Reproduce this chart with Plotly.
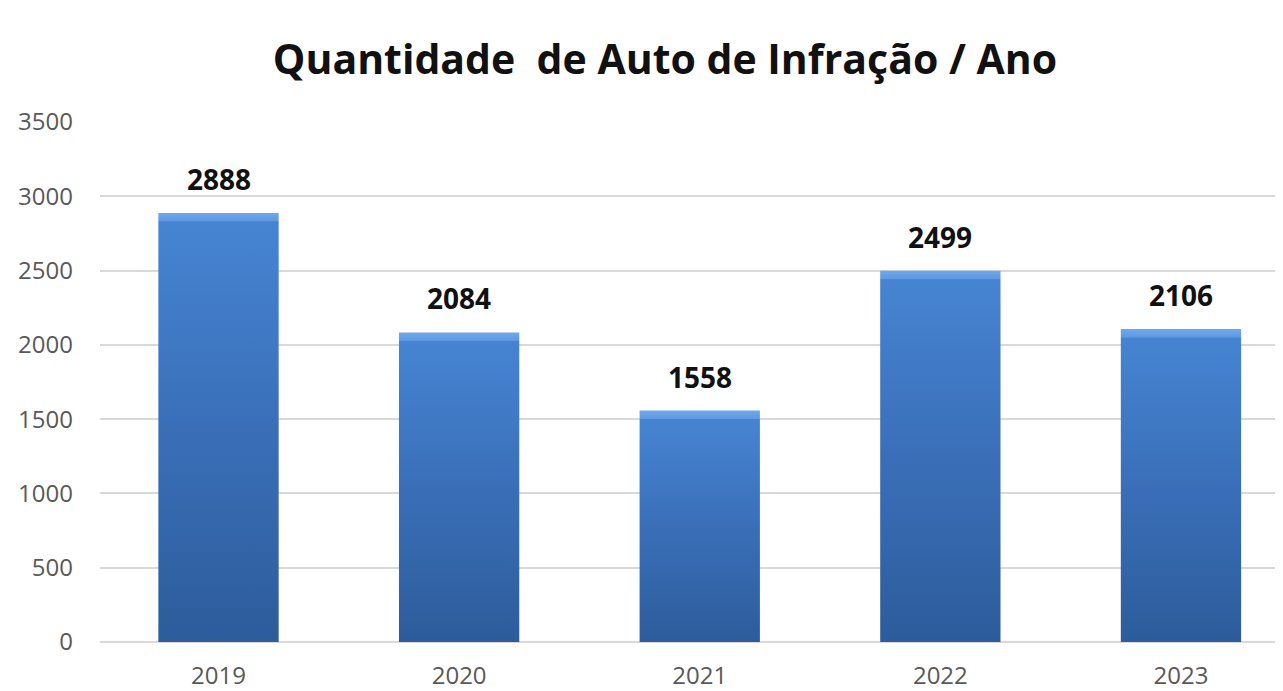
import plotly.graph_objects as go

years = ["2019", "2020", "2021", "2022", "2023"]
values = [2888, 2084, 1558, 2499, 2106]
y_ticks = [0, 500, 1000, 1500, 2000, 2500, 3000, 3500]
title_text = "Quantidade  de Auto de Infração / Ano"

# the page body adds an 8px margin, so the figure is sized to fit the window
OFF = 8
W, H = 1283 - OFF, 691 - OFF
M_L, M_R, M_T, M_B = 100 - OFF, 0, 122 - OFF, 44
Y_MAX = 3500
px_per_unit = (H - M_T - M_B) / Y_MAX
half_w = 0.25

fig = go.Figure()
for i, (yr, v) in enumerate(zip(years, values)):
    bevel = 1 - 9 / (v * px_per_unit)
    fig.add_trace(go.Scatter(
        x=[i - half_w, i - half_w, i + half_w, i + half_w, i - half_w],
        y=[0, v, v, 0, 0],
        mode="lines",
        line=dict(width=0),
        fill="toself",
        fillgradient=dict(
            type="vertical",
            colorscale=[
                [0.0, "#2D5C9B"],
                [0.5, "#3A6FB8"],
                [bevel, "#4684D2"],
                [min(bevel + 0.003, 1), "#5F9AE2"],
                [1.0, "#6EA8EC"],
            ],
        ),
        name=yr,
        hoverinfo="skip",
        showlegend=False,
    ))
    fig.add_annotation(
        x=i, y=v, text=f"<b>{v}</b>", showarrow=False,
        yanchor="bottom", yshift=13,
        font=dict(family="Open Sans", size=28, color="#111111"),
    )

fig.update_layout(
    width=W, height=H,
    margin=dict(l=M_L, r=M_R, t=M_T, b=M_B),
    paper_bgcolor="white", plot_bgcolor="white",
    title=dict(
        text=f"<b>{title_text}</b>",
        x=(665 - OFF) / W, xanchor="center", xref="container",
        y=1 - (60 - OFF) / H, yanchor="middle", yref="container",
        font=dict(family="Open Sans", size=41, color="#111111"),
    ),
    xaxis=dict(
        range=[-0.4925, 4.424],
        tickmode="array", tickvals=list(range(len(years))), ticktext=years,
        showgrid=False, zeroline=False, showline=False, ticks="",
        ticklabelstandoff=17,
        tickfont=dict(family="Open Sans", size=24, color="#595959"),
        fixedrange=True,
    ),
    yaxis=dict(
        range=[0, Y_MAX],
        tickmode="array", tickvals=y_ticks,
        showgrid=True, gridcolor="#D9D9D9", gridwidth=1.5,
        zeroline=True, zerolinecolor="#D9D9D9", zerolinewidth=1.5,
        showline=False, ticks="",
        ticklabelstandoff=26,
        tickfont=dict(family="Open Sans", size=24, color="#595959"),
        fixedrange=True,
    ),
)

fig.write_html("out.html")
